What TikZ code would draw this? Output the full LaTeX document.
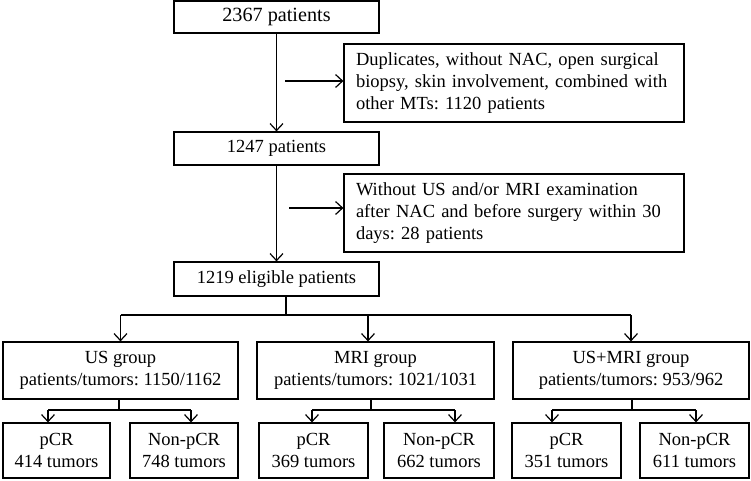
\documentclass[tikz,border=0pt]{standalone}
\usepackage{fontspec}
\setmainfont{Liberation Serif}
\usetikzlibrary{arrows.meta}
\frenchspacing
\begin{document}
\begin{tikzpicture}[x=1pt,y=-1pt,
  box/.style={draw, line width=1.2pt, inner sep=0pt, align=center,
    font=\fontsize{18.5}{22}\selectfont},
  exbox/.style={draw, line width=1.2pt, inner xsep=12pt, inner ysep=0pt, align=left,
    text width=316pt, minimum height=78pt, font=\fontsize{18.5}{21.7}\selectfont},
  conn/.style={line width=1.2pt},
  arr/.style={line width=1.2pt, -{Straight Barb[length=7pt,width=13pt]}}]
\useasboundingbox (0,0) rectangle (751,480);

% main column
\node[box, minimum width=205pt, minimum height=32pt, font=\fontsize{20.2}{22}\selectfont] (b1) at (276.5,17) {2367 patients};
\node[box, minimum width=205pt, minimum height=33pt] (b2) at (276.5,148.5) {1247 patients};
\node[box, minimum width=205pt, minimum height=34pt] (b3) at (276.5,279) {1219 eligible patients};

% exclusion boxes
\node[exbox] (e1) at (514,83) {Duplicates, without NAC, open surgical\\biopsy, skin involvement, combined with\\other MTs: 1120 patients};
\node[exbox] (e2) at (514,213) {Without US and/or MRI examination\\after NAC and before surgery within 30\\days: 28 patients};

% groups
\node[box, minimum width=235pt, minimum height=57pt] (g1) at (120.5,370.5) {US group\\patients/tumors: 1150/1162};
\node[box, minimum width=237pt, minimum height=57pt] (g2) at (375.5,370.5) {MRI group\\patients/tumors: 1021/1031};
\node[box, minimum width=236pt, minimum height=57pt] (g3) at (631,370.5) {US+MRI group\\patients/tumors: 953/962};

% outcomes
\node[box, minimum width=107pt, minimum height=55pt] (o1) at (56.5,450.5) {pCR\\414 tumors};
\node[box, minimum width=108pt, minimum height=55pt] (o2) at (184,450.5) {Non-pCR\\748 tumors};
\node[box, minimum width=109pt, minimum height=55pt] (o3) at (313.5,450.5) {pCR\\369 tumors};
\node[box, minimum width=110pt, minimum height=55pt] (o4) at (439,450.5) {Non-pCR\\662 tumors};
\node[box, minimum width=109pt, minimum height=55pt] (o5) at (566.5,450.5) {pCR\\351 tumors};
\node[box, minimum width=109pt, minimum height=55pt] (o6) at (694.5,450.5) {Non-pCR\\611 tumors};

% main vertical arrows
\draw[arr] (b1) -- (b2);
\draw[arr] (b2) -- (b3);

% exclusion arrows
\coordinate (h1) at (285,81);
\coordinate (h2) at (289,208);
\draw[arr] (h1) -- (h1 -| e1.west);
\draw[arr] (h2) -- (h2 -| e2.west);

% top branch
\coordinate (t) at (286,315);
\coordinate (tm) at (368,315);
\draw[conn] (b3.south -| t) -- (t);
\draw[conn] (g1.north |- t) -- (g3.north |- t);
\draw[arr] (g1.north |- t) -- (g1.north);
\draw[arr] (tm) -- (tm |- g2.north);
\draw[arr] (g3.north |- t) -- (g3.north);

% sub branches
\coordinate (s1) at (119,410);
\coordinate (s1a) at (48,410);
\coordinate (s1b) at (191,410);
\draw[conn] (s1 |- g1.south) -- (s1);
\draw[conn] (s1a) -- (s1b);
\draw[arr] (s1a) -- (s1a |- o1.north);
\draw[arr] (s1b) -- (s1b |- o2.north);

\coordinate (s2) at (371,410);
\coordinate (s2a) at (312,410);
\coordinate (s2b) at (455,410);
\draw[conn] (s2 |- g2.south) -- (s2);
\draw[conn] (s2a) -- (s2b);
\draw[arr] (s2a) -- (s2a |- o3.north);
\draw[arr] (s2b) -- (s2b |- o4.north);

\coordinate (s3) at (632,410);
\coordinate (s3a) at (552,410);
\coordinate (s3b) at (696,410);
\draw[conn] (s3 |- g3.south) -- (s3);
\draw[conn] (s3a) -- (s3b);
\draw[arr] (s3a) -- (s3a |- o5.north);
\draw[arr] (s3b) -- (s3b |- o6.north);
\end{tikzpicture}
\end{document}
